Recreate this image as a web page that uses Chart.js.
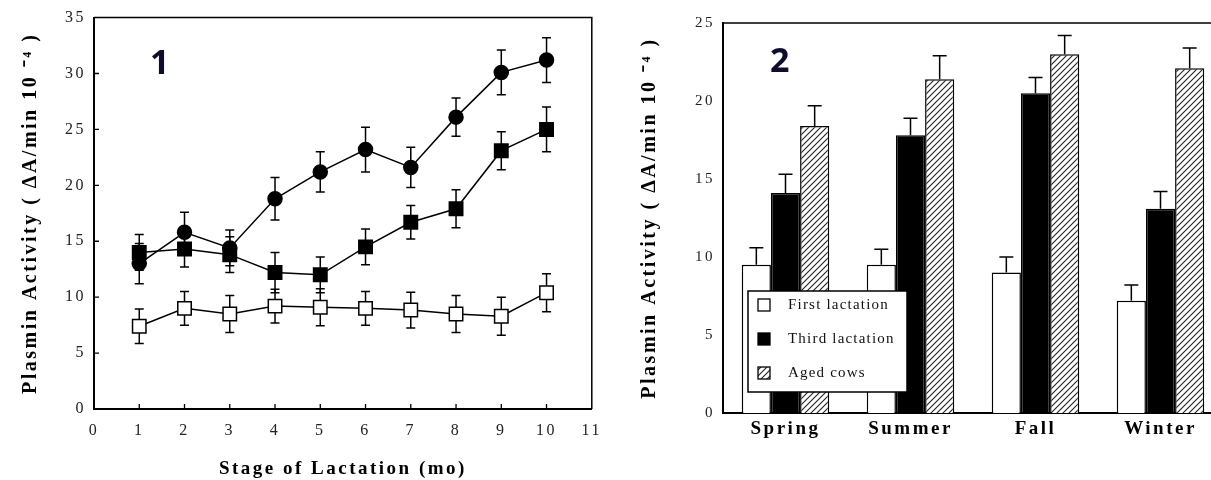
<!DOCTYPE html>
<html>
<head>
<meta charset="utf-8">
<script src="https://cdn.jsdelivr.net/npm/chart.js@4.4.1/dist/chart.umd.min.js"></script>
<style>
  html, body { margin: 0; padding: 0; background: #fff; overflow: hidden; }
  .panel { position: absolute; top: 0; height: 480px; }
  #p1 { left: 0; width: 614px; }
  #p2 { left: 600px; width: 630px; }
  .tag { position: absolute; font: bold 34px "Open Sans", sans-serif; color: #0e0e2c; line-height: 1; }
</style>
</head>
<body>
<div class="panel" id="p1"><canvas id="c1"></canvas></div>
<div class="panel" id="p2"><canvas id="c2"></canvas></div>
<div class="tag" style="left:150px;top:44px">1</div>
<div class="tag" style="left:770px;top:42px">2</div>
<script>
// panel 1: plasmin activity by stage of lactation
const months = [1, 2, 3, 4, 5, 6, 7, 8, 9, 10];
const agedCows = [13.0, 15.8, 14.4, 18.8, 21.2, 23.2, 21.6, 26.1, 30.1, 31.2];
const agedCowsErr = [1.8, 1.8, 1.6, 1.9, 1.8, 2.0, 1.8, 1.7, 2.0, 2.0];
const thirdLact = [14.0, 14.3, 13.8, 12.2, 12.0, 14.5, 16.7, 17.9, 23.1, 25.0];
const thirdLactErr = [1.6, 1.6, 1.6, 1.8, 1.6, 1.6, 1.5, 1.7, 1.7, 2.0];
const firstLact = [7.4, 9.0, 8.5, 9.2, 9.1, 9.0, 8.85, 8.5, 8.3, 10.4];
const firstLactErr = [1.55, 1.5, 1.65, 1.5, 1.65, 1.5, 1.6, 1.65, 1.7, 1.7];

// panel 2: plasmin activity by season
const seasons = ['Spring', 'Summer', 'Fall', 'Winter'];
const firstSeason = [9.5, 9.5, 9.0, 7.2];
const firstSeasonErr = [1.1, 1.0, 1.0, 1.0];
const thirdSeason = [14.1, 17.8, 20.5, 13.1];
const thirdSeasonErr = [1.2, 1.1, 1.0, 1.1];
const agedSeason = [18.4, 21.4, 23.0, 22.1];
const agedSeasonErr = [1.3, 1.5, 1.2, 1.3];

const yTitle = 'Plasmin Activity ( ΔA/min 10 ⁻⁴ )';

Chart.defaults.font.family = '"Liberation Serif", "Times New Roman", serif';
Chart.defaults.color = '#222';

function hatch() {
  const c = document.createElement('canvas');
  c.width = 6; c.height = 6;
  const g = c.getContext('2d');
  g.fillStyle = '#fff';
  g.fillRect(0, 0, 6, 6);
  g.strokeStyle = '#222';
  g.lineWidth = 1.1;
  g.beginPath();
  g.moveTo(0, 6); g.lineTo(6, 0);
  g.moveTo(-1, 1); g.lineTo(1, -1);
  g.moveTo(5, 7); g.lineTo(7, 5);
  g.stroke();
  return g.createPattern(c, 'repeat');
}

// letter spacing for the old typeset look
const spacing = {
  id: 'spacing',
  beforeLayout(chart, args, o) { chart.ctx.letterSpacing = o.px + 'px'; },
  beforeDraw(chart, args, o) { chart.ctx.letterSpacing = o.px + 'px'; }
};

const errorBars = {
  id: 'errorBars',
  beforeDatasetsDraw(chart, args, o) { if (o.both) draw(chart, o); },
  afterDatasetsDraw(chart, args, o) { if (!o.both) draw(chart, o); }
};
function draw(chart, o) {
  const ctx = chart.ctx, y = chart.scales.y;
  ctx.save();
  ctx.strokeStyle = '#000';
  ctx.lineWidth = 1.5;
  chart.data.datasets.forEach((ds, di) => {
    const meta = chart.getDatasetMeta(di);
    meta.data.forEach((el, i) => {
      const v = typeof ds.data[i] === 'object' ? ds.data[i].y : ds.data[i];
      const e = ds.errors[i];
      const top = y.getPixelForValue(v + e);
      const bot = o.both ? y.getPixelForValue(v - e) : y.getPixelForValue(v);
      const x = el.x, c = o.cap / 2;
      ctx.beginPath();
      ctx.moveTo(x, bot); ctx.lineTo(x, top);
      ctx.moveTo(x - c, top); ctx.lineTo(x + c, top);
      if (o.both) { ctx.moveTo(x - c, bot); ctx.lineTo(x + c, bot); }
      ctx.stroke();
    });
  });
  ctx.restore();
}

const frame = {
  id: 'frame',
  afterDraw(chart, args, o) {
    const { ctx, chartArea: a } = chart;
    ctx.save();
    ctx.strokeStyle = '#000';
    ctx.lineWidth = 1.5;
    ctx.beginPath();
    ctx.moveTo(a.left, a.top); ctx.lineTo(a.right, a.top);
    ctx.lineTo(a.right, a.bottom);
    ctx.stroke();
    if (o.innerTicks) {
      ctx.lineWidth = 1.3;
      ctx.beginPath();
      chart.scales.x.ticks.forEach(t => {
        if (t.value <= 0 || t.value >= 11) return;
        const px = chart.scales.x.getPixelForValue(t.value);
        ctx.moveTo(px, a.bottom); ctx.lineTo(px, a.bottom - 5);
      });
      chart.scales.y.ticks.forEach(t => {
        if (t.value <= 0 || t.value >= 35) return;
        const py = chart.scales.y.getPixelForValue(t.value);
        ctx.moveTo(a.left, py); ctx.lineTo(a.left + 5, py);
      });
      ctx.stroke();
    }
    ctx.restore();
  }
};

const boxLegend = {
  id: 'boxLegend',
  afterDatasetsDraw(chart, args, o) {
    const { ctx, chartArea: a } = chart;
    const x0 = a.left + o.left, y0 = o.top;
    ctx.save();
    ctx.fillStyle = '#fff';
    ctx.fillRect(x0, y0, o.width, o.height);
    ctx.strokeStyle = '#000';
    ctx.lineWidth = 1.5;
    ctx.strokeRect(x0, y0, o.width, o.height);
    ctx.font = '15px "Liberation Serif", serif';
    ctx.letterSpacing = '1.2px';
    ctx.textBaseline = 'middle';
    chart.data.datasets.forEach((ds, i) => {
      const cy = y0 + 14 + i * 34;
      ctx.fillStyle = ds.backgroundColor;
      ctx.fillRect(x0 + 10, cy - 6, 12, 12);
      ctx.lineWidth = 1.3;
      ctx.strokeRect(x0 + 10, cy - 6, 12, 12);
      ctx.fillStyle = '#111';
      ctx.fillText(ds.label, x0 + 40, cy);
    });
    ctx.restore();
  }
};

const tickFont = { size: 16 };
const titleFont = { size: 20, weight: 'bold' };

new Chart(document.getElementById('c1'), {
  type: 'line',
  data: {
    datasets: [
      {
        label: 'Aged cows',
        data: months.map((m, i) => ({ x: m, y: agedCows[i] })),
        errors: agedCowsErr,
        borderColor: '#000', borderWidth: 1.5,
        pointStyle: 'circle', pointRadius: 7,
        pointBackgroundColor: '#000', pointBorderColor: '#000'
      },
      {
        label: 'Third lactation',
        data: months.map((m, i) => ({ x: m, y: thirdLact[i] })),
        errors: thirdLactErr,
        borderColor: '#000', borderWidth: 1.5,
        pointStyle: 'rect', pointRadius: 9.5,
        pointBackgroundColor: '#000', pointBorderColor: '#000'
      },
      {
        label: 'First lactation',
        data: months.map((m, i) => ({ x: m, y: firstLact[i] })),
        errors: firstLactErr,
        borderColor: '#000', borderWidth: 1.5,
        pointStyle: 'rect', pointRadius: 9.5, pointBorderWidth: 1.5,
        pointBackgroundColor: '#fff', pointBorderColor: '#000'
      }
    ]
  },
  options: {
    responsive: true,
    maintainAspectRatio: false,
    animation: false,
    events: [],
    layout: { padding: { left: 0, right: 8, top: 16, bottom: 0 } },
    plugins: {
      legend: { display: false },
      tooltip: { enabled: false },
      spacing: { px: 2.5 },
      errorBars: { both: true, cap: 9 },
      frame: { innerTicks: true }
    },
    scales: {
      x: {
        type: 'linear', min: 0, max: 11,
        afterFit: s => { s.height = 71; },
        ticks: { stepSize: 1, padding: 12, font: tickFont },
        grid: { display: false, drawTicks: false },
        border: { color: '#000', width: 2 },
        title: { display: true, text: 'Stage of Lactation (mo)', color: '#000', font: { size: 19, weight: 'bold' }, padding: { top: 0, bottom: 0 } }
      },
      y: {
        min: 0, max: 35,
        afterFit: s => { s.width = 94; },
        ticks: { stepSize: 5, padding: 8, font: tickFont },
        grid: { display: false, drawTicks: false },
        border: { color: '#000', width: 2 },
        title: { display: true, text: yTitle, color: '#000', font: titleFont, padding: { top: 19, bottom: 0 } }
      }
    }
  },
  plugins: [spacing, errorBars, frame]
});

new Chart(document.getElementById('c2'), {
  type: 'bar',
  data: {
    labels: seasons,
    datasets: [
      { label: 'First lactation', data: firstSeason, errors: firstSeasonErr, backgroundColor: '#fff', borderColor: '#000', borderWidth: 1.5 },
      { label: 'Third lactation', data: thirdSeason, errors: thirdSeasonErr, backgroundColor: '#000', borderColor: '#000', borderWidth: 1.5 },
      { label: 'Aged cows', data: agedSeason, errors: agedSeasonErr, backgroundColor: hatch(), borderColor: '#000', borderWidth: 1.5 }
    ]
  },
  options: {
    responsive: true,
    maintainAspectRatio: false,
    animation: false,
    events: [],
    layout: { padding: { left: 0, right: 7, top: 23, bottom: 0 } },
    datasets: { bar: { categoryPercentage: 0.7, barPercentage: 1.0 } },
    plugins: {
      legend: { display: false },
      tooltip: { enabled: false },
      spacing: { px: 2.5 },
      errorBars: { both: false, cap: 14 },
      frame: { innerTicks: false },
      boxLegend: { left: 25, top: 291, width: 159, height: 101 }
    },
    scales: {
      x: {
        afterFit: s => { s.height = 67; },
        ticks: { padding: 5, color: '#000', font: { size: 19, weight: 'bold' } },
        grid: { display: false, drawTicks: false },
        border: { color: '#000', width: 2 }
      },
      y: {
        min: 0, max: 25,
        afterFit: s => { s.width = 123; },
        ticks: { stepSize: 5, padding: 8, font: { size: 15 } },
        grid: { display: false, drawTicks: false },
        border: { color: '#000', width: 2 },
        title: { display: true, text: yTitle, color: '#000', font: titleFont, padding: { top: 38, bottom: 0 } }
      }
    }
  },
  plugins: [spacing, errorBars, boxLegend, frame]
});
</script>
</body>
</html>
